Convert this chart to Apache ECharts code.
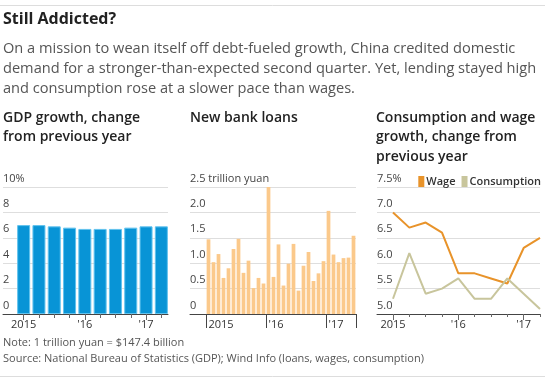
<!DOCTYPE html>
<html><head><meta charset="utf-8">
<script src="https://cdn.jsdelivr.net/npm/echarts@6/dist/echarts.min.js"></script>
<style>html,body{margin:0;padding:0;background:#fff}#c{width:557px;height:378px}</style>
</head><body><div id="c"></div>
<script>
// ---------- data ----------
const quarters = ['Q1 2015','Q2 2015','Q3 2015','Q4 2015','Q1 2016','Q2 2016','Q3 2016','Q4 2016','Q1 2017','Q2 2017'];
const quarterTickLabels = ['2015','','','',"'16",'','','',"'17",''];
const gdpGrowth = [7.0,7.0,6.9,6.8,6.7,6.7,6.7,6.8,6.9,6.9];
const gdpYLabels = ['0','2','4','6','8','10%'];

const months = ['Jan 2015','Feb 2015','Mar 2015','Apr 2015','May 2015','Jun 2015','Jul 2015','Aug 2015','Sep 2015','Oct 2015','Nov 2015','Dec 2015',
  'Jan 2016','Feb 2016','Mar 2016','Apr 2016','May 2016','Jun 2016','Jul 2016','Aug 2016','Sep 2016','Oct 2016','Nov 2016','Dec 2016',
  'Jan 2017','Feb 2017','Mar 2017','Apr 2017','May 2017','Jun 2017'];
const newLoans = [1.47,1.02,1.18,0.71,0.90,1.28,1.48,0.81,1.05,0.51,0.71,0.60,
  2.51,0.73,1.37,0.56,0.99,1.38,0.46,0.95,1.22,0.65,0.80,1.04,
  2.03,1.17,1.02,1.10,1.11,1.54];
const monthTickLabels = {'Jan 2015':'2015','Jan 2016':"'16",'Jan 2017':"'17"};
const loansYLabels = ['0','0.5','1.0','1.5','2.0','2.5 trillion yuan'];

const wage = [7.0,6.7,6.8,6.6,5.8,5.8,5.7,5.6,6.3,6.5];
const consumption = [5.3,6.2,5.4,5.5,5.7,5.3,5.3,5.7,5.4,5.1];
const lineYLabels = ['5.0','5.5','6.0','6.5','7.0','7.5%'];

// ---------- chart ----------
const FONT = '"Open Sans", sans-serif';
const TOP = 187, H = 127;
const AXIS = '#444', TICK = '#666', GRIDC = '#dedede';

function grid(left, width){ return {left:left, width:width, top:TOP, height:H}; }
function yAxisBg(gi, min, max, interval, labels){
  return {type:'value', gridIndex:gi, min:min, max:max, interval:interval,
    axisLine:{show:false}, axisTick:{show:false},
    splitLine:{show:true, lineStyle:{color:GRIDC, width:1}},
    axisLabel:{inside:true, margin:0, verticalAlign:'bottom', padding:[0,0,3,0],
      fontSize:11, color:'#444', fontFamily:FONT,
      formatter:function(v){ return labels[Math.round((v-min)/interval)]; }}};
}
function yAxisHidden(gi, min, max){ return {type:'value', gridIndex:gi, min:min, max:max, show:false}; }
function xAxisBg(gi){
  return {type:'value', gridIndex:gi, min:0, max:1,
    axisLine:{show:true, onZero:false, lineStyle:{color:AXIS, width:1}},
    axisTick:{show:false}, axisLabel:{show:false}, splitLine:{show:false}};
}
function xAxisTicks(gi, cats, bgap, len, tickFn, labelFn){
  return {type:'category', gridIndex:gi, data:cats, boundaryGap:bgap,
    axisLine:{show:false},
    axisTick:{show:true, alignWithLabel:true, length:len, interval:tickFn, lineStyle:{color:TICK}},
    axisLabel:labelFn ? {show:true, interval:0, margin:5, fontSize:11, color:'#333', fontFamily:FONT, formatter:labelFn}
                      : {show:false},
    splitLine:{show:false}};
}
const qLabel = function(v, i){ return quarterTickLabels[i]; };
const qYear = function(i){ return quarterTickLabels[i] !== ''; };

const option = {
  backgroundColor:'#fff',
  animation:false,
  textStyle:{fontFamily:FONT},
  title:[
    {text:'Still Addicted?', left:3, top:10, padding:0,
      textStyle:{fontFamily:FONT, fontSize:16, fontWeight:'bold', color:'#222', lineHeight:18}},
    {text:'On a mission to wean itself off debt-fueled growth, China credited domestic\ndemand for a stronger-than-expected second quarter. Yet, lending stayed high\nand consumption rose at a slower pace than wages.',
      left:3, top:39, padding:0,
      textStyle:{fontFamily:FONT, fontSize:14.6, fontWeight:'normal', color:'#555', lineHeight:20}},
    {text:'GDP growth, change\nfrom previous year', left:3, top:108, padding:0,
      textStyle:{fontFamily:FONT, fontSize:14, fontWeight:600, color:'#222', lineHeight:19.5}},
    {text:'New bank loans', left:190, top:108, padding:0,
      textStyle:{fontFamily:FONT, fontSize:14, fontWeight:600, color:'#222', lineHeight:19.5}},
    {text:'Consumption and wage\ngrowth, change from\nprevious year', left:376, top:108, padding:0,
      textStyle:{fontFamily:FONT, fontSize:14, fontWeight:600, color:'#222', lineHeight:19.5}},
    {text:'Note: 1 trillion yuan = $147.4 billion\nSource: National Bureau of Statistics (GDP); Wind Info (loans, wages, consumption)',
      left:3, top:335, padding:0,
      textStyle:{fontFamily:FONT, fontSize:11, fontWeight:'normal', color:'#555', lineHeight:16}}
  ],
  legend:{right:16, top:176, width:200, orient:'horizontal', itemWidth:6, itemHeight:11, itemGap:6, icon:'rect', padding:0,
    textStyle:{fontFamily:FONT, fontSize:11, fontWeight:600, color:'#333', padding:[0,0,0,-3]},
    data:['Wage','Consumption']},
  grid:[
    grid(3,165),   // 0 gdp background
    grid(16,153),  // 1 gdp bars
    grid(16,153),  // 2 gdp year ticks
    grid(190,166), // 3 loans background
    grid(206,150), // 4 loans bars
    grid(377,163), // 5 line background
    grid(393,147), // 6 lines
    grid(393,147)  // 7 line year ticks
  ],
  xAxis:[
    xAxisBg(0),
    xAxisTicks(1, quarters, true, 4, 0, null),
    xAxisTicks(2, quarters, true, 6, qYear, qLabel),
    xAxisBg(3),
    {type:'category', gridIndex:4, data:months, boundaryGap:true,
      axisLine:{show:false},
      axisTick:{show:true, alignWithLabel:false, length:14,
        interval:function(i, v){ return monthTickLabels[v] !== undefined; }, lineStyle:{color:AXIS}},
      axisLabel:{show:true, interval:function(i, v){ return monthTickLabels[v] !== undefined; },
        align:'left', margin:5, fontSize:11, color:'#333', fontFamily:FONT,
        formatter:function(v){ return monthTickLabels[v] || ''; }},
      splitLine:{show:false}},
    xAxisBg(5),
    xAxisTicks(6, quarters, false, 3, 0, null),
    xAxisTicks(7, quarters, false, 6, qYear, qLabel)
  ],
  yAxis:[
    yAxisBg(0, 0, 10, 2, gdpYLabels),
    yAxisHidden(1, 0, 10),
    yAxisHidden(2, 0, 10),
    yAxisBg(3, 0, 2.5, 0.5, loansYLabels),
    yAxisHidden(4, 0, 2.5),
    yAxisBg(5, 5, 7.5, 0.5, lineYLabels),
    yAxisHidden(6, 5, 7.5),
    yAxisHidden(7, 5, 7.5)
  ],
  series:[
    {name:'GDP growth', type:'bar', xAxisIndex:1, yAxisIndex:1, data:gdpGrowth,
      barCategoryGap:'15%', itemStyle:{color:'#0894d6', borderColor:'#62c3ee', borderWidth:1}},
    {name:'New bank loans', type:'bar', xAxisIndex:4, yAxisIndex:4, data:newLoans,
      barCategoryGap:'25%', itemStyle:{color:'#fbc98b'}},
    {name:'Wage', type:'line', xAxisIndex:6, yAxisIndex:6, data:wage, symbol:'none',
      itemStyle:{color:'#e8932a'}, lineStyle:{color:'#e8932a', width:2}},
    {name:'Consumption', type:'line', xAxisIndex:6, yAxisIndex:6, data:consumption, symbol:'none',
      itemStyle:{color:'#c8c59c'}, lineStyle:{color:'#c8c59c', width:2}}
  ],
  graphic:[
    {type:'line', shape:{x1:0, y1:5.5, x2:545, y2:5.5}, style:{stroke:'#dddddd', lineWidth:1}},
    {type:'line', shape:{x1:0, y1:376.5, x2:545, y2:376.5}, style:{stroke:'#dddddd', lineWidth:1}}
  ]
};
const chart = echarts.init(document.getElementById('c'));
chart.setOption(option);
</script>
</body></html>
